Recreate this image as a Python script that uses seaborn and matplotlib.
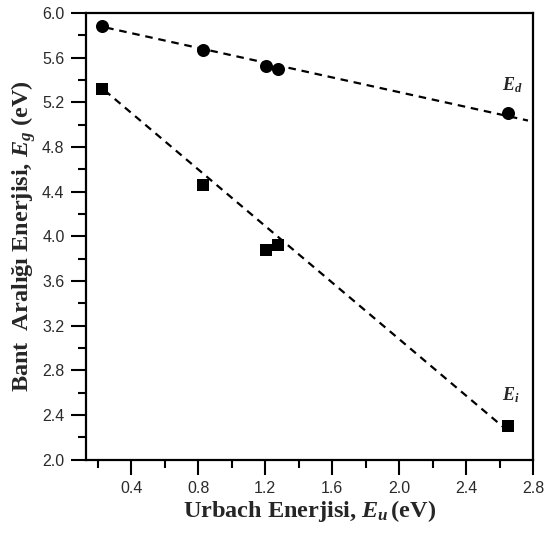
import numpy as np
import pandas as pd
import matplotlib
matplotlib.use("Agg")
import matplotlib.pyplot as plt
import seaborn as sns

# Urbach energy (eV) of the samples
urbach_energy = [0.227, 0.828, 1.206, 1.279, 2.652]
# Direct (E_d) and indirect (E_i) band gaps (eV)
gap_direct = [5.88, 5.67, 5.525, 5.50, 5.10]
gap_indirect = [5.32, 4.46, 3.88, 3.92, 2.30]

# Linear trend lines: (slope, intercept) and the x-span they cover
trend_direct = (-0.33, 5.95)
trend_indirect = (-1.265, 5.61)
trend_span_direct = [0.25, 2.77]
trend_span_indirect = [0.24, 2.67]

x_ticks = [0.4, 0.8, 1.2, 1.6, 2.0, 2.4, 2.8]
y_ticks = [2.0, 2.4, 2.8, 3.2, 3.6, 4.0, 4.4, 4.8, 5.2, 5.6, 6.0]

df = pd.DataFrame({
    "Eu": urbach_energy * 2,
    "Eg": gap_direct + gap_indirect,
    "kind": ["Ed"] * 5 + ["Ei"] * 5,
})

sns.set_theme(style="ticks")
plt.rcParams["font.family"] = ["Liberation Sans", "DejaVu Sans"]
plt.rcParams["mathtext.fontset"] = "custom"
plt.rcParams["mathtext.it"] = "Liberation Serif:bold:italic"
plt.rcParams["mathtext.rm"] = "Liberation Serif:bold"

fig = plt.figure(figsize=(5.45, 5.34), dpi=100)
ax = fig.add_axes([0.158, 0.139, 0.820, 0.837])

# dashed trend lines
for (k, b), span in ((trend_direct, trend_span_direct),
                     (trend_indirect, trend_span_indirect)):
    xs = np.array(span)
    sns.lineplot(x=xs, y=k * xs + b, ax=ax, color="black", lw=1.6,
                 linestyle=(0, (3.4, 2.6)), zorder=2)

sns.scatterplot(data=df[df.kind == "Ed"], x="Eu", y="Eg", ax=ax, marker="o",
                s=88, color="black", linewidth=0, zorder=3)
sns.scatterplot(data=df[df.kind == "Ei"], x="Eu", y="Eg", ax=ax, marker="s",
                s=68, color="black", linewidth=0, zorder=3)

ax.set_xlim(0.13, 2.8)
ax.set_ylim(2.0, 6.0)
ax.set_xticks(x_ticks)
ax.set_xticklabels([f"{t:.1f}" for t in x_ticks])
ax.set_xticks(np.arange(0.2, 2.8, 0.4), minor=True)
ax.set_yticks(y_ticks)
ax.set_yticklabels([f"{t:.1f}" for t in y_ticks])
ax.set_yticks(np.arange(2.2, 6.0, 0.4), minor=True)

ax.tick_params(which="major", direction="out", length=11, width=1.5,
               labelsize=11.5, labelcolor="#2a2a2a", pad=4.5, color="black")
ax.tick_params(which="minor", direction="out", length=5.5, width=1.5, color="black")
for s in ax.spines.values():
    s.set_linewidth(1.6)
    s.set_color("black")

serif = ["Liberation Serif", "DejaVu Serif"]
ax.set_xlabel(r"Urbach Enerjisi, $E_u\,$(eV)", fontsize=17.5,
              fontweight="bold", family=serif, labelpad=1)
ax.set_ylabel(r"Bant  Aralığı Enerjisi, $E_g$ (eV)", fontsize=17.5,
              fontweight="bold", family=serif, labelpad=3)

ax.text(2.675, 5.31, r"$E_d$", fontsize=13, family=serif, ha="center", va="baseline")
ax.text(2.665, 2.53, r"$E_i$", fontsize=13, family=serif, ha="center", va="baseline")

fig.savefig("out.png", dpi=100)
